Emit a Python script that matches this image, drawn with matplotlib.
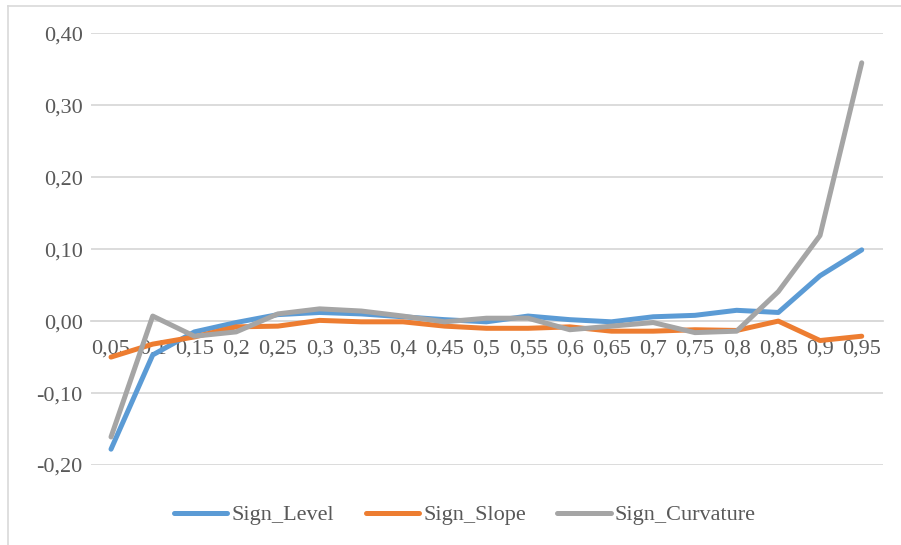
import matplotlib.pyplot as plt
from matplotlib.lines import Line2D

plt.rcParams['font.family'] = ['Liberation Serif', 'DejaVu Serif']

quantiles = ['0,05', '0,1', '0,15', '0,2', '0,25', '0,3', '0,35', '0,4', '0,45', '0,5',
             '0,55', '0,6', '0,65', '0,7', '0,75', '0,8', '0,85', '0,9', '0,95']

sign_level = [-0.178, -0.047, -0.015, -0.002, 0.009, 0.012, 0.010, 0.006, 0.002, -0.001,
              0.007, 0.002, -0.001, 0.006, 0.008, 0.015, 0.012, 0.063, 0.099]
sign_slope = [-0.050, -0.032, -0.022, -0.008, -0.007, 0.001, -0.001, -0.001, -0.007, -0.010,
              -0.010, -0.008, -0.014, -0.014, -0.012, -0.013, 0.000, -0.027, -0.021]
sign_curv = [-0.161, 0.007, -0.021, -0.015, 0.010, 0.017, 0.014, 0.007, -0.001, 0.004,
             0.004, -0.012, -0.007, -0.002, -0.016, -0.014, 0.041, 0.119, 0.359]

yticks = [-0.2, -0.1, 0.0, 0.1, 0.2, 0.3, 0.4]
ytick_labels = ['-0,20', '-0,10', '0,00', '0,10', '0,20', '0,30', '0,40']

W, H = 901, 545
fig = plt.figure(figsize=(W / 100, H / 100), dpi=100)
ax = fig.add_axes([91 / W, (H - 465) / H, (883 - 91) / W, (465 - 33.3) / H])

txt = '#595959'
grid = '#D9D9D9'
x = list(range(len(quantiles)))

series = [(sign_level, '#5B9BD5', 'Sign_Level'),
          (sign_slope, '#ED7D31', 'Sign_Slope'),
          (sign_curv, '#A5A5A5', 'Sign_Curvature')]
for vals, col, name in series:
    ax.plot(x, vals, color=col, lw=3.6, solid_capstyle='round',
            solid_joinstyle='round', label=name, zorder=3)

ax.set_xlim(-0.48, 18.51)
ax.set_ylim(-0.2, 0.4)
ax.set_yticks(yticks)
ax.set_yticklabels(ytick_labels)
ax.yaxis.grid(True, color=grid, lw=1.3)
ax.set_axisbelow(True)

# category labels sit under the zero line
ax.set_xticks(x)
ax.set_xticklabels(quantiles)
ax.spines['bottom'].set_position(('data', 0))
ax.spines['bottom'].set_color(grid)
ax.spines['bottom'].set_linewidth(1.3)
for s in ['top', 'right', 'left']:
    ax.spines[s].set_visible(False)
ax.tick_params(axis='both', length=0, labelsize=16, labelcolor=txt)
ax.tick_params(axis='x', pad=13.5)
ax.tick_params(axis='y', pad=6)

# chart area border (top and left edges visible)
fig.add_artist(Line2D([8 / W, 8 / W], [0, 1 - 6 / H], color=grid, lw=1.2))
fig.add_artist(Line2D([8 / W, 1], [1 - 6 / H, 1 - 6 / H], color=grid, lw=1.2))

leg = fig.legend(loc='center', bbox_to_anchor=(465 / W, 1 - 515 / H), ncol=3,
                 frameon=False, fontsize=16, handlelength=2.4, handletextpad=0.2,
                 columnspacing=1.4, labelcolor=txt)

fig.savefig('out.png', dpi=100)
